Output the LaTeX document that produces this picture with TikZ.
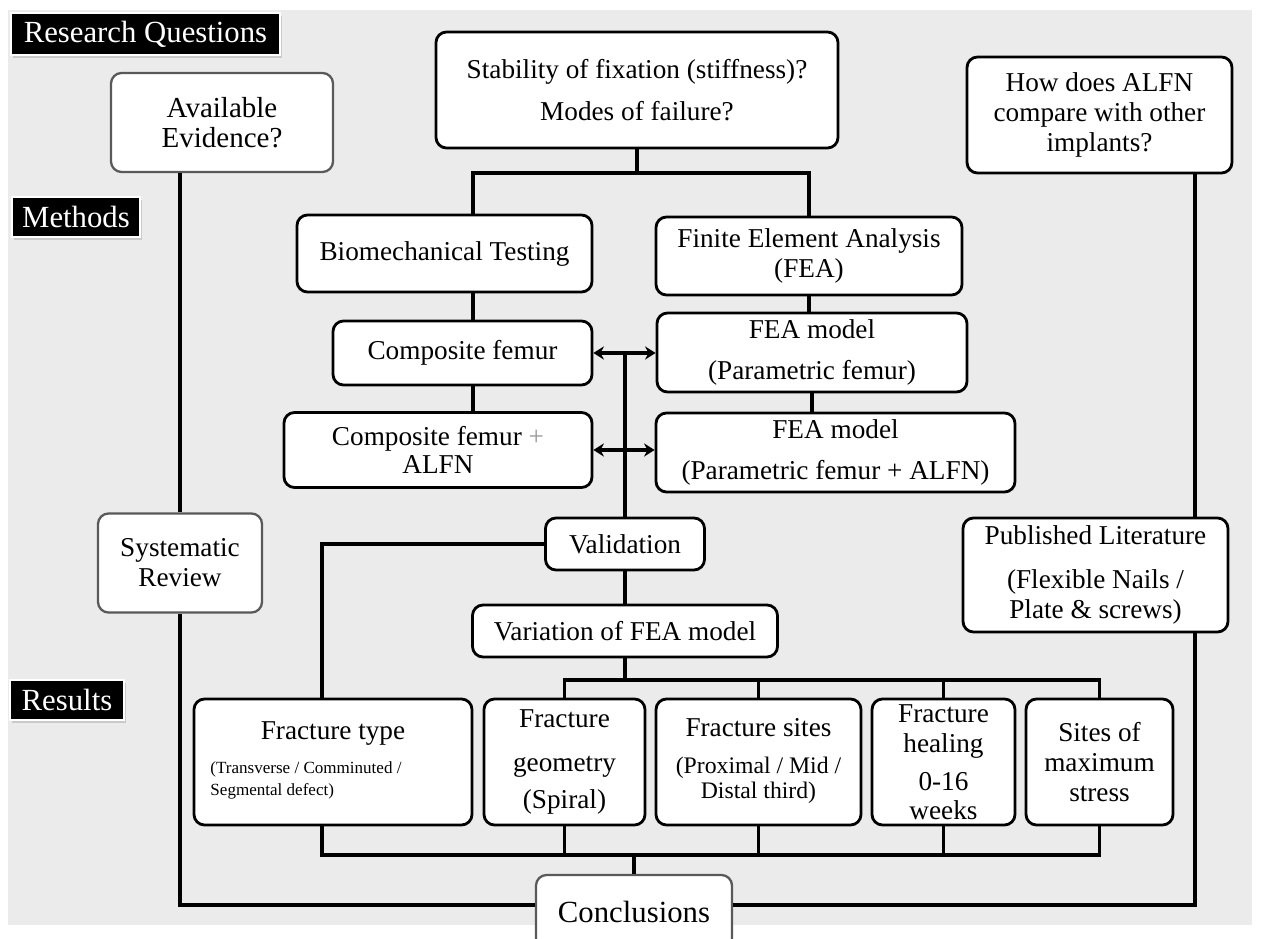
\documentclass[tikz,border=0pt]{standalone}
\usepackage{fontspec}
\setmainfont{Liberation Serif}
\usetikzlibrary{arrows.meta, positioning, calc, shadows}

% small sub-text block inside a box
\newcommand{\subtext}[3]{{\fontsize{#1}{#2}\selectfont\begin{tabular}{@{}c@{}}#3\end{tabular}}}
\newcommand{\subtextl}[3]{{\fontsize{#1}{#2}\selectfont\begin{tabular}{@{}l@{}}#3\end{tabular}}}

\begin{document}
\begin{tikzpicture}[
      x=0.02cm, y=-0.02cm,
      every node/.style={rounded corners=6pt, draw, fill=white, line width=1.6pt,
        inner sep=0pt, align=center, font=\fontsize{15.5}{17}\selectfont},
      wh/.style 2 args={minimum width=#1*0.02cm, minimum height=#2*0.02cm},
      soft/.style={draw=black!65, line width=1.3pt},
      hdr/.style={rounded corners=0pt, fill=black, draw=white, text=white, line width=1.5pt,
        font=\fontsize{17.5}{20}\selectfont,
        drop shadow={opacity=0.3, shadow xshift=1pt, shadow yshift=-1.5pt}},
      link/.style={line width=2.2pt},
      >={Stealth[length=6pt, width=7.5pt]}
    ]
      \useasboundingbox (0,0) rectangle (1262,939);
      \clip (0,0) rectangle (1262,939);
      \fill[white] (0,0) rectangle (1262,939);
      \fill[black!8] (8,10) rectangle (1252,925);

      % section headers
      \node[hdr, wh={269}{42}] (rq) at (145.5,34) {Research Questions};
      \node[hdr, wh={128}{40}] (mh) at (76,217) {Methods};
      \node[hdr, wh={114}{40}] (rs) at (67,700) {Results};

      % questions
      \node[soft, wh={222}{99}, font=\fontsize{16.5}{17}\selectfont] (evid) at (222,122.5) {Available\\Evidence?};
      \node[wh={402}{116}] (stab) at (637,90) {Stability of fixation (stiffness)?\\[7pt]Modes of failure?};
      \node[wh={265}{116}] (cmp) at (1099.5,115) {How does ALFN\\compare with other\\implants?};

      % methods
      \node[wh={295}{77}] (biomech) at (444.5,253.5) {Biomechanical Testing};
      \node[wh={306}{78}] (fea) at (809,256) {Finite Element Analysis\\(FEA)};
      \node[wh={259}{64}] (cfem) at (462.5,353) {Composite femur};
      \node[wh={308}{75}] (cfemalfn) at (438,450) {Composite femur {\color{black!40}+}\\[-1pt]ALFN};
      \node[wh={310}{79}] (feam) at (812,352.5) {FEA model\\[6pt](Parametric femur)};
      \node[wh={359}{79}] (feamalfn) at (835.5,452.5) {FEA model\\[6pt](Parametric femur + ALFN)};
      \node[wh={159}{52}] (valid) at (625,544) {Validation};
      \node[wh={305}{52}] (vari) at (625,631) {Variation of FEA model};
      \node[soft, wh={164}{99}] (sysrev) at (180,563) {Systematic\\Review};
      \node[wh={265}{114}] (publit) at (1095.5,575) {Published Literature\\[8pt](Flexible Nails /\\Plate \& screws)};

      % results
      \node[wh={278}{126}] (ftype) at (333,762) {Fracture type\\[6pt]\subtextl{9.7}{12.5}{(Transverse / Comminuted /\\Segmental defect)}\hspace*{1.08cm}};
      \node[wh={161}{126}] (fgeom) at (564.5,762) {Fracture\\[8pt]geometry\\[4pt](Spiral)};
      \node[wh={205}{126}] (fsites) at (758.5,762) {Fracture sites\\[10pt]\subtext{13.5}{14}{(Proximal / Mid /\\Distal third)}};
      \node[wh={143}{126}] (fheal) at (943.5,762) {Fracture\\healing\\[5pt]0-16\\[-1pt]weeks};
      \node[wh={147}{126}] (fstress) at (1099.5,762) {Sites of\\maximum\\stress};
      \node[soft, wh={196}{74}, font=\fontsize{17.5}{19}\selectfont] (concl) at (634,912) {Conclusions};

      % helper points for the orthogonal lines
      \coordinate (lv) at (473,173);
      \coordinate (rx) at (1195,0);
      \coordinate (fl) at (322,0);
      \coordinate (tb) at (0,680);
      \coordinate (bb) at (0,855);
      \coordinate (bl) at (0,905);

      % outer loops
      \draw[link] (evid.south -| sysrev.north) -- (sysrev.north);
      \draw[link] (sysrev.south) -- (sysrev.south |- bl) -- (concl.west |- bl);
      \draw[link] (cmp.south -| rx) -- (publit.north -| rx);
      \draw[link] (publit.south -| rx) -- (rx |- bl) -- (concl.east |- bl);

      % methods tree
      \draw[link] (stab.south) -- (stab.south |- lv);
      \draw[link] (lv |- biomech.north) -- (lv) -- (lv -| fea.north) -- (fea.north);
      \draw[link] (lv |- biomech.south) -- (lv |- cfem.north);
      \draw[link] (lv |- cfem.south) -- (lv |- cfemalfn.north);
      \draw[link] (fea.south) -- (fea.south |- feam.north);
      \draw[link] (feam.south) -- (feam.south |- feamalfn.north);
      \draw[link, <->] (cfem.east) -- (cfem.east -| feam.west);
      \draw[link, <->] (cfemalfn.east) -- (cfemalfn.east -| feamalfn.west);
      \draw[link] (valid.north) -- (valid.north |- cfem.east);
      \draw[link] (valid.west) -| (fl |- ftype.north);
      \draw[link] (valid.south) -- (vari.north);

      % results tree
      \draw[link] (vari.south) -- (vari.south |- tb);
      \draw[link] (fgeom.north) -- (fgeom.north |- tb) -- (fstress.north |- tb) -- (fstress.north);
      \foreach \n in {fsites, fheal}
        \draw[link] (\n.north) -- (\n.north |- tb);
      \draw[link] (fl |- ftype.south) -- (fl |- bb) -- (fstress.south |- bb) -- (fstress.south);
      \foreach \n in {fgeom, fsites, fheal}
        \draw[link] (\n.south) -- (\n.south |- bb);
      \draw[link] (concl.north) -- (concl.north |- bb);
    \end{tikzpicture}
\end{document}
